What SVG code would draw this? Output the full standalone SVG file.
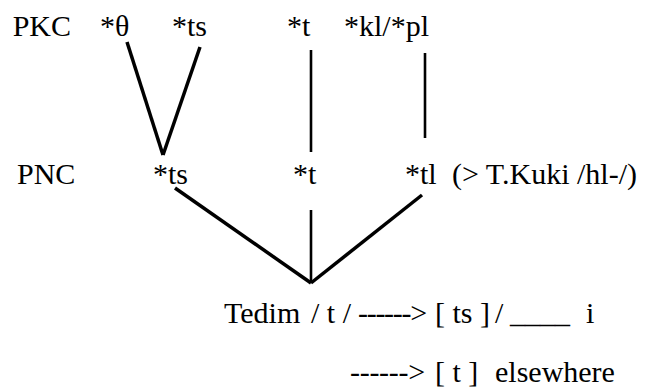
<svg xmlns="http://www.w3.org/2000/svg" width="659" height="389" viewBox="0 0 659 389">
<style>
text{font-family:"Liberation Serif","Times New Roman",serif;font-size:30px;fill:#000}
.c{stroke:#000;fill:none}
.d{stroke-width:3.5}
.v{stroke-width:2.6}
</style>
<rect width="659" height="389" fill="#fff"/>
<g id="labels">
<text x="12.7" y="36">PKC</text>
<text x="17" y="184">PNC</text>
</g>
<g id="pkc-theta"><text x="100" y="36">*θ</text></g>
<g id="pkc-ts"><text x="172" y="36">*ts</text></g>
<g id="pkc-t"><text x="287" y="36">*t</text></g>
<g id="pkc-klpl"><text x="344" y="36">*kl/*pl</text></g>
<g id="pnc-ts"><text x="153" y="184">*ts</text></g>
<g id="pnc-t"><text x="293" y="184">*t</text></g>
<g id="pnc-tl"><text x="405" y="184">*tl</text><text x="452" y="184">(&gt; T.Kuki /hl-/)</text></g>
<g id="tedim">
<text x="224" y="323">Tedim</text>
<text x="311" y="323">/ t /</text>
<text x="358" y="323" letter-spacing="-1.3">------&gt;</text>
<text x="435" y="323">[ ts ]</text>
<text x="495" y="323">/</text>
<text x="510" y="323">____</text>
<text x="586" y="323">i</text>
<text x="350" y="382" letter-spacing="-0.3">------&gt;</text>
<text x="435" y="382">[ t ]</text>
<text x="495" y="382">elsewhere</text>
</g>
<g id="connectors">
<line class="c d" x1="127" y1="42" x2="163" y2="155"/>
<line class="c d" x1="200" y1="47" x2="163" y2="155"/>
<line class="c v" x1="311" y1="50" x2="311" y2="152"/>
<line class="c v" x1="425" y1="53" x2="425" y2="138"/>
<line class="c d" x1="175" y1="188" x2="311" y2="283"/>
<line class="c v" x1="311" y1="210" x2="311" y2="283"/>
<line class="c d" x1="422" y1="195" x2="311" y2="283"/>
</g>
</svg>
